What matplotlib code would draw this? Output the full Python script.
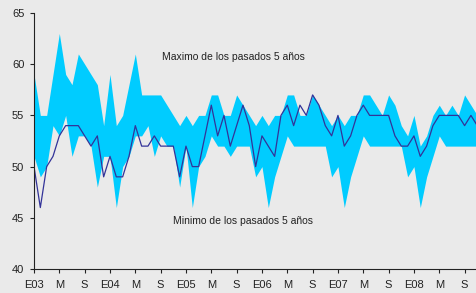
import matplotlib
matplotlib.use("Agg")
import matplotlib.pyplot as plt
import numpy as np

# monthly values, Jan 2003 (E03) .. Nov 2008
actual = [50, 46, 50, 51, 53, 54, 54, 54, 53, 52, 53, 49,
          51, 49, 49, 51, 54, 52, 52, 53, 52, 52, 52, 49,
          52, 50, 50, 53, 56, 53, 55, 52, 54, 56, 54, 50,
          53, 52, 51, 55, 56, 54, 56, 55, 57, 56, 54, 53,
          55, 52, 53, 55, 56, 55, 55, 55, 55, 53, 52, 52,
          53, 51, 52, 54, 55, 55, 55, 55, 54, 55, 54]

max5 = [59, 55, 55, 59, 63, 59, 58, 61, 60, 59, 58, 54,
        59, 54, 55, 58, 61, 57, 57, 57, 57, 56, 55, 54,
        55, 54, 55, 55, 57, 57, 55, 55, 57, 56, 55, 54,
        55, 54, 55, 55, 57, 57, 55, 55, 57, 56, 55, 54,
        55, 54, 55, 55, 57, 57, 56, 55, 57, 56, 54, 53,
        55, 52, 53, 55, 56, 55, 56, 55, 57, 56, 55]

min5 = [51, 49, 50, 54, 53, 55, 51, 53, 53, 52, 48, 51,
        51, 46, 50, 51, 53, 53, 54, 51, 53, 52, 52, 48,
        52, 46, 50, 51, 53, 52, 52, 51, 52, 52, 52, 49,
        50, 46, 49, 51, 53, 52, 52, 52, 52, 52, 52, 49,
        50, 46, 49, 51, 53, 52, 52, 52, 52, 52, 52, 49,
        50, 46, 49, 51, 53, 52, 52, 52, 52, 52, 52]

tick_labels = ["E03", "M", "S", "E04", "M", "S", "E05", "M", "S",
               "E06", "M", "S", "E07", "M", "S", "E08", "M", "S"]

plt.rcParams["font.family"] = ["Liberation Sans", "DejaVu Sans"]

bg = "#eaeaea"
months = np.arange(len(actual))

fig = plt.figure(figsize=(4.76, 2.93), dpi=100, facecolor=bg)
ax = fig.add_axes([34/476, 24/293, 1 - 34/476, 256/293], facecolor=bg)

ax.fill_between(months, min5, max5, color="#00ccff", linewidth=0)
ax.plot(months, actual, color="#333399", linewidth=0.9)

ax.text(20.2, 60.7, "Maximo de los pasados 5 años", fontsize=7.5,
        color="#222222", va="center")
ax.text(22.0, 44.7, "Minimo de los pasados 5 años", fontsize=7.5,
        color="#222222", va="center")

ax.set_xlim(0, 69.8)
ax.set_ylim(40, 65)
ax.set_yticks(range(40, 66, 5))
ax.set_xticks(np.arange(0, 4*len(tick_labels), 4))
ax.set_xticklabels(tick_labels)
ax.tick_params(labelsize=8, colors="#222222", length=3, width=0.8)
ax.tick_params(axis="x", pad=5)
ax.tick_params(axis="y", pad=4)

for s in ["top", "right"]:
    ax.spines[s].set_visible(False)
for s in ["left", "bottom"]:
    ax.spines[s].set_color("#222222")
    ax.spines[s].set_linewidth(0.8)

fig.savefig("out.png", dpi=100, facecolor=bg)
